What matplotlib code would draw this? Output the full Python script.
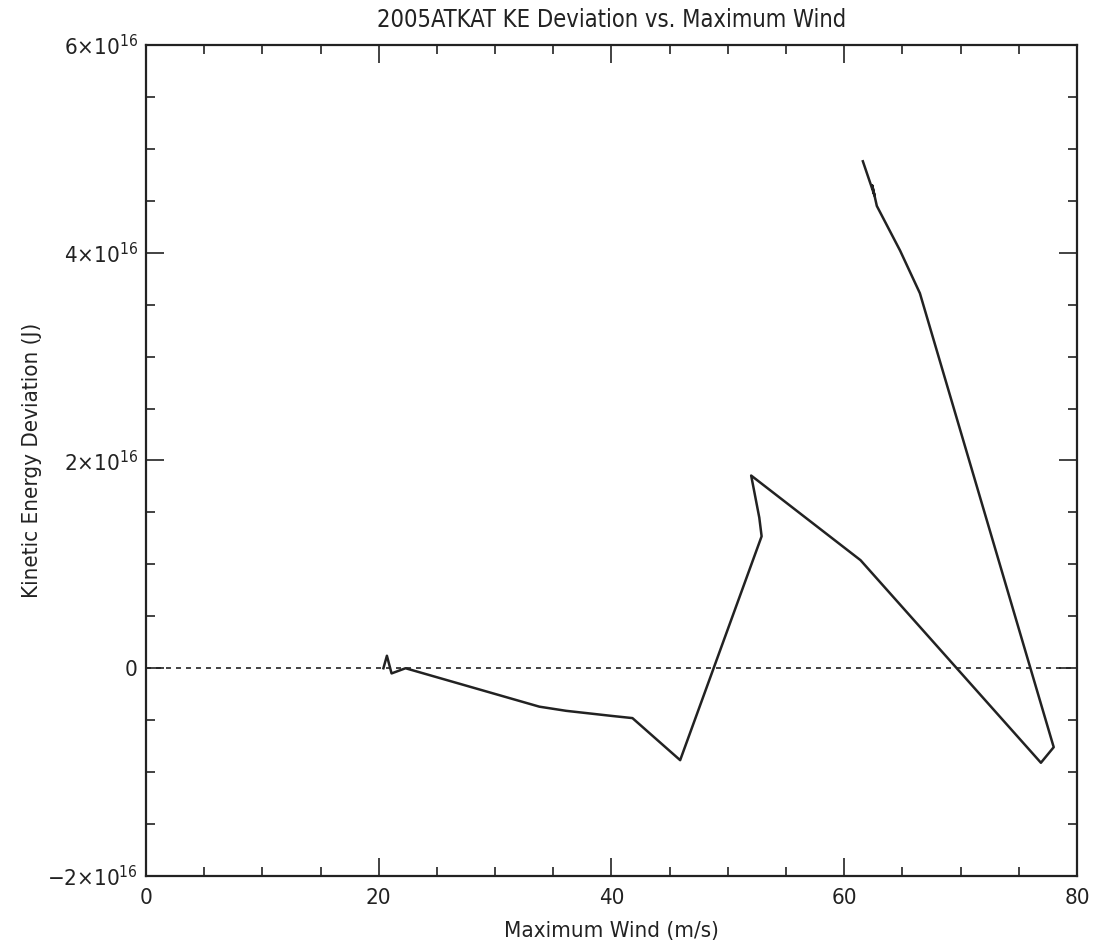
import matplotlib
matplotlib.use('Agg')
import matplotlib.pyplot as plt
from matplotlib.ticker import MultipleLocator, FuncFormatter
import numpy as np

# storm track: maximum wind (m/s) vs KE deviation (units of 1e16 J)
wind = [20.4, 20.7, 21.1, 22.3, 33.8, 36.1, 40.1, 41.8, 45.9,
        52.9, 52.7, 52.2, 52.0, 61.4, 76.9, 78.0, 66.5, 64.8,
        62.8, 62.4, 62.6, 61.6]
ke_dev = [0.0, 0.12, -0.05, 0.0, -0.37, -0.41, -0.46, -0.48, -0.885,
          1.27, 1.45, 1.74, 1.855, 1.04, -0.91, -0.76, 3.61, 4.02,
          4.45, 4.65, 4.55, 4.88]

title = '2005ATKAT KE Deviation vs. Maximum Wind'
xlabel = 'Maximum Wind (m/s)'
ylabel = 'Kinetic Energy Deviation (J)'

plt.rcParams['font.family'] = ['DejaVu Sans']
plt.rcParams['font.stretch'] = 'condensed'
plt.rcParams['mathtext.fontset'] = 'custom'
plt.rcParams['mathtext.rm'] = 'DejaVu Sans'
ink = '#222222'

fig = plt.figure(figsize=(11.02, 9.46), dpi=100)
ax = fig.add_axes([0.1325, 0.074, 0.8448, 0.8785])

scale = 1e16
x = np.array(wind)
y = np.array(ke_dev) * scale

ax.axhline(0, color=ink, lw=1.2, linestyle=(0, (3, 3)))
ax.plot(x, y, color=ink, lw=1.8)

ax.set_xlim(0, 80)
ax.set_ylim(-2 * scale, 6 * scale)

ax.xaxis.set_major_locator(MultipleLocator(20))
ax.xaxis.set_minor_locator(MultipleLocator(5))
ax.yaxis.set_major_locator(MultipleLocator(2 * scale))
ax.yaxis.set_minor_locator(MultipleLocator(0.5 * scale))


def sci_fmt(v, pos):
    m = int(round(v / scale))
    if m == 0:
        return '0'
    sign = '\u2212' if m < 0 else ''
    return sign + '%d\u00d710$^{16}$' % abs(m)


ax.yaxis.set_major_formatter(FuncFormatter(sci_fmt))

ax.tick_params(which='both', direction='in', top=True, right=True,
               color=ink, width=1.2, labelcolor=ink, labelsize=16)
ax.tick_params(which='major', length=13)
ax.tick_params(which='minor', length=6.5)
ax.tick_params(axis='x', which='major', pad=9)
ax.tick_params(axis='y', which='major', pad=6)
for s in ax.spines.values():
    s.set_linewidth(1.6)
    s.set_color(ink)

ax.set_title(title, fontsize=17, color=ink, pad=13)
ax.set_xlabel(xlabel, fontsize=16, color=ink, labelpad=9)
ax.set_ylabel(ylabel, fontsize=16, color=ink)
ax.yaxis.set_label_coords(-0.112, 0.5)

plt.savefig('out.png', dpi=100)
